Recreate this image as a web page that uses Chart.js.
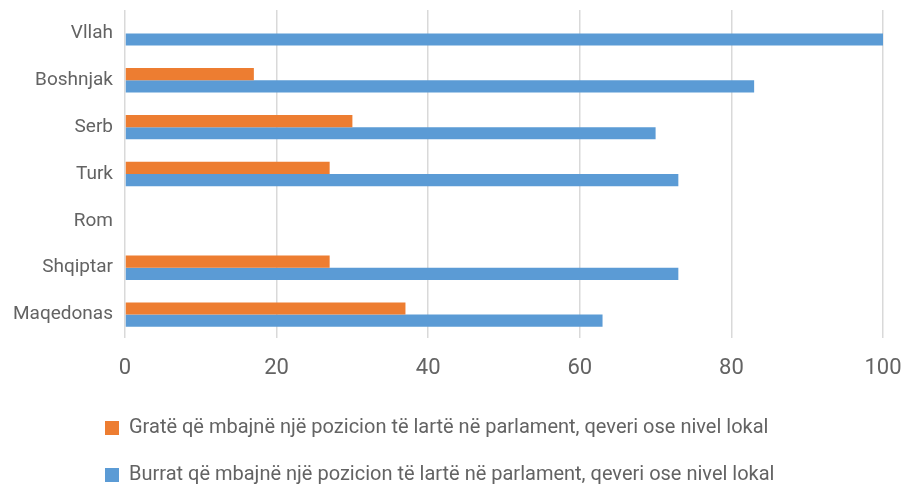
<!DOCTYPE html>
<html>
<head>
<meta charset="utf-8">
<script src="https://cdn.jsdelivr.net/npm/chart.js@4/dist/chart.umd.min.js"></script>
<style>
  html, body { margin: 0; padding: 0; background: #fff; }
  #wrap { width: 906px; height: 487px; }
</style>
</head>
<body>
<div id="wrap"><canvas id="chart-bar" width="906" height="487"></canvas></div>
<script>
var categories = ['Vllah', 'Boshnjak', 'Serb', 'Turk', 'Rom', 'Shqiptar', 'Maqedonas'];
var women = [0, 17, 30, 27, 0, 27, 37];
var men = [100, 83, 70, 73, 0, 73, 63];
var seriesNames = [
    'Gratë që mbajnë një pozicion të lartë në parlament, qeveri ose nivel lokal',
    'Burrat që mbajnë një pozicion të lartë në parlament, qeveri ose nivel lokal'
];
var xTicks = [0, 20, 40, 60, 80, 100];

// legend starts a bit left of centre in the original
var legendShift = {
    id: 'legendShift',
    afterLayout: function (chart) {
        chart.legend.left = 78;
    }
};

var ctx = document.getElementById('chart-bar').getContext('2d');
var myBarChart = new Chart(ctx, {
    type: 'bar',
    data: {
        labels: categories,
        datasets: [{
            label: seriesNames[0],
            data: women,
            backgroundColor: '#ED7D31',
            barPercentage: 1,
            categoryPercentage: 0.52
        }, {
            label: seriesNames[1],
            data: men,
            backgroundColor: '#5B9BD5',
            barPercentage: 1,
            categoryPercentage: 0.52
        }]
    },
    plugins: [legendShift],
    options: {
        indexAxis: 'y',
        responsive: false,
        maintainAspectRatio: false,
        animation: false,
        layout: {
            padding: { top: 10, right: 23, bottom: -8, left: 0 }
        },
        scales: {
            x: {
                min: xTicks[0],
                max: xTicks[xTicks.length - 1],
                afterBuildTicks: function (scale) {
                    scale.ticks = xTicks.map(function (v) { return { value: v }; });
                },
                afterFit: function (scale) {
                    scale.height = 53;
                    scale.paddingLeft = 0;
                    scale.paddingRight = 0;
                },
                grid: { color: '#d9d9d9', lineWidth: 1.5, drawTicks: false },
                border: { display: false },
                ticks: {
                    padding: 17,
                    color: '#636363',
                    font: { family: 'Roboto', size: 22 }
                }
            },
            y: {
                afterFit: function (scale) {
                    scale.width = 125;
                    scale.paddingTop = 0;
                    scale.paddingBottom = 0;
                },
                grid: { display: false, drawTicks: false },
                border: { display: false },
                ticks: {
                    padding: 12,
                    color: '#636363',
                    font: { family: 'Roboto', size: 19 }
                }
            }
        },
        plugins: {
            legend: {
                position: 'bottom',
                align: 'start',
                labels: {
                    boxWidth: 14,
                    boxHeight: 14,
                    padding: 27,
                    color: '#636363',
                    font: { family: 'Roboto', size: 20 }
                }
            },
            tooltip: { enabled: false }
        }
    }
});
</script>
</body>
</html>
